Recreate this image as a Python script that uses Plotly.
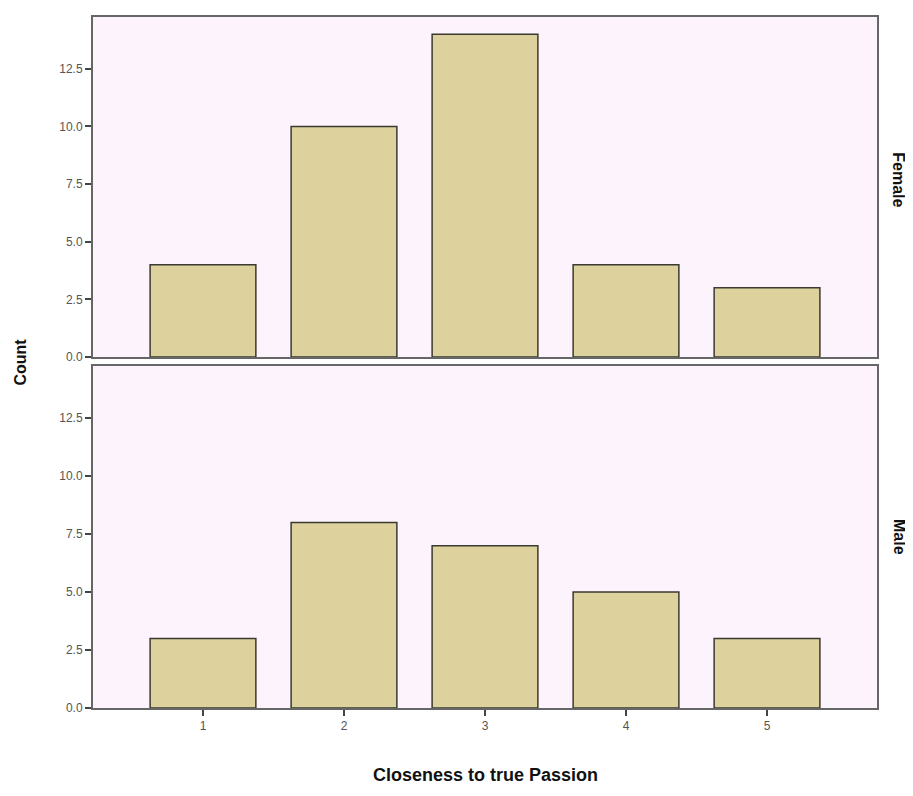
import plotly.graph_objects as go
from plotly.subplots import make_subplots

categories = [1, 2, 3, 4, 5]
female_counts = [4, 10, 14, 4, 3]
male_counts = [3, 8, 7, 5, 3]
y_ticks = [0.0, 2.5, 5.0, 7.5, 10.0, 12.5]
y_tick_labels = ["0.0", "2.5", "5.0", "7.5", "10.0", "12.5"]
panel_labels = ["Female", "Male"]

fig = make_subplots(rows=2, cols=1, shared_xaxes=True, vertical_spacing=0.0)

bar_style = dict(marker=dict(color="#DDD29E", line=dict(color="#3a3a30", width=1.5)),
                 width=0.75, showlegend=False)
fig.add_trace(go.Bar(x=categories, y=female_counts, **bar_style), row=1, col=1)
fig.add_trace(go.Bar(x=categories, y=male_counts, **bar_style), row=2, col=1)

axis_common = dict(showline=True, linecolor="#666666", linewidth=2, mirror=True,
                   showgrid=False, zeroline=False, ticks="outside", ticklen=6,
                   tickcolor="#444444", tickwidth=2,
                   tickfont=dict(family="Liberation Sans, Arial", size=12, color="#555555"))

for r in (1, 2):
    fig.update_yaxes(range=[0, 14.75], tickvals=y_ticks, ticktext=y_tick_labels,
                     row=r, col=1, **axis_common)
    fig.update_xaxes(range=[0.22, 5.78], tickvals=categories,
                     ticktext=[str(c) for c in categories], row=r, col=1, **axis_common)

fig.update_xaxes(showticklabels=False, ticks="", row=1, col=1)

fig.update_layout(
    width=905, height=788,
    margin=dict(l=85, r=36, t=7, b=88),
    paper_bgcolor="white",
    plot_bgcolor="#FCF3FC",
    bargap=0.25,
)

fig.layout.yaxis.domain = [0.508, 1.0]
fig.layout.yaxis2.domain = [0.0, 0.495]

label_font = dict(family="Liberation Sans, Arial", size=16, color="#111111")

# Facet labels on right
fig.add_annotation(text="<b>" + panel_labels[0] + "</b>", xref="paper", yref="y domain",
                   x=1.028, y=0.52, xanchor="center", yanchor="middle",
                   showarrow=False, textangle=90, font=label_font)
fig.add_annotation(text="<b>" + panel_labels[1] + "</b>", xref="paper", yref="y2 domain",
                   x=1.028, y=0.5, xanchor="center", yanchor="middle",
                   showarrow=False, textangle=90, font=label_font)

# Y title
fig.add_annotation(text="<b>Count</b>", xref="paper", yref="paper",
                   x=-0.093, y=0.5, xanchor="center", yanchor="middle",
                   showarrow=False, textangle=-90, font=label_font)

# X title
fig.add_annotation(text="<b>Closeness to true Passion</b>",
                   xref="paper", yref="paper", x=0.5, y=-0.097,
                   xanchor="center", yanchor="middle", showarrow=False,
                   font=dict(family="Liberation Sans, Arial", size=18, color="#111111"))

fig.write_html("out.html")
